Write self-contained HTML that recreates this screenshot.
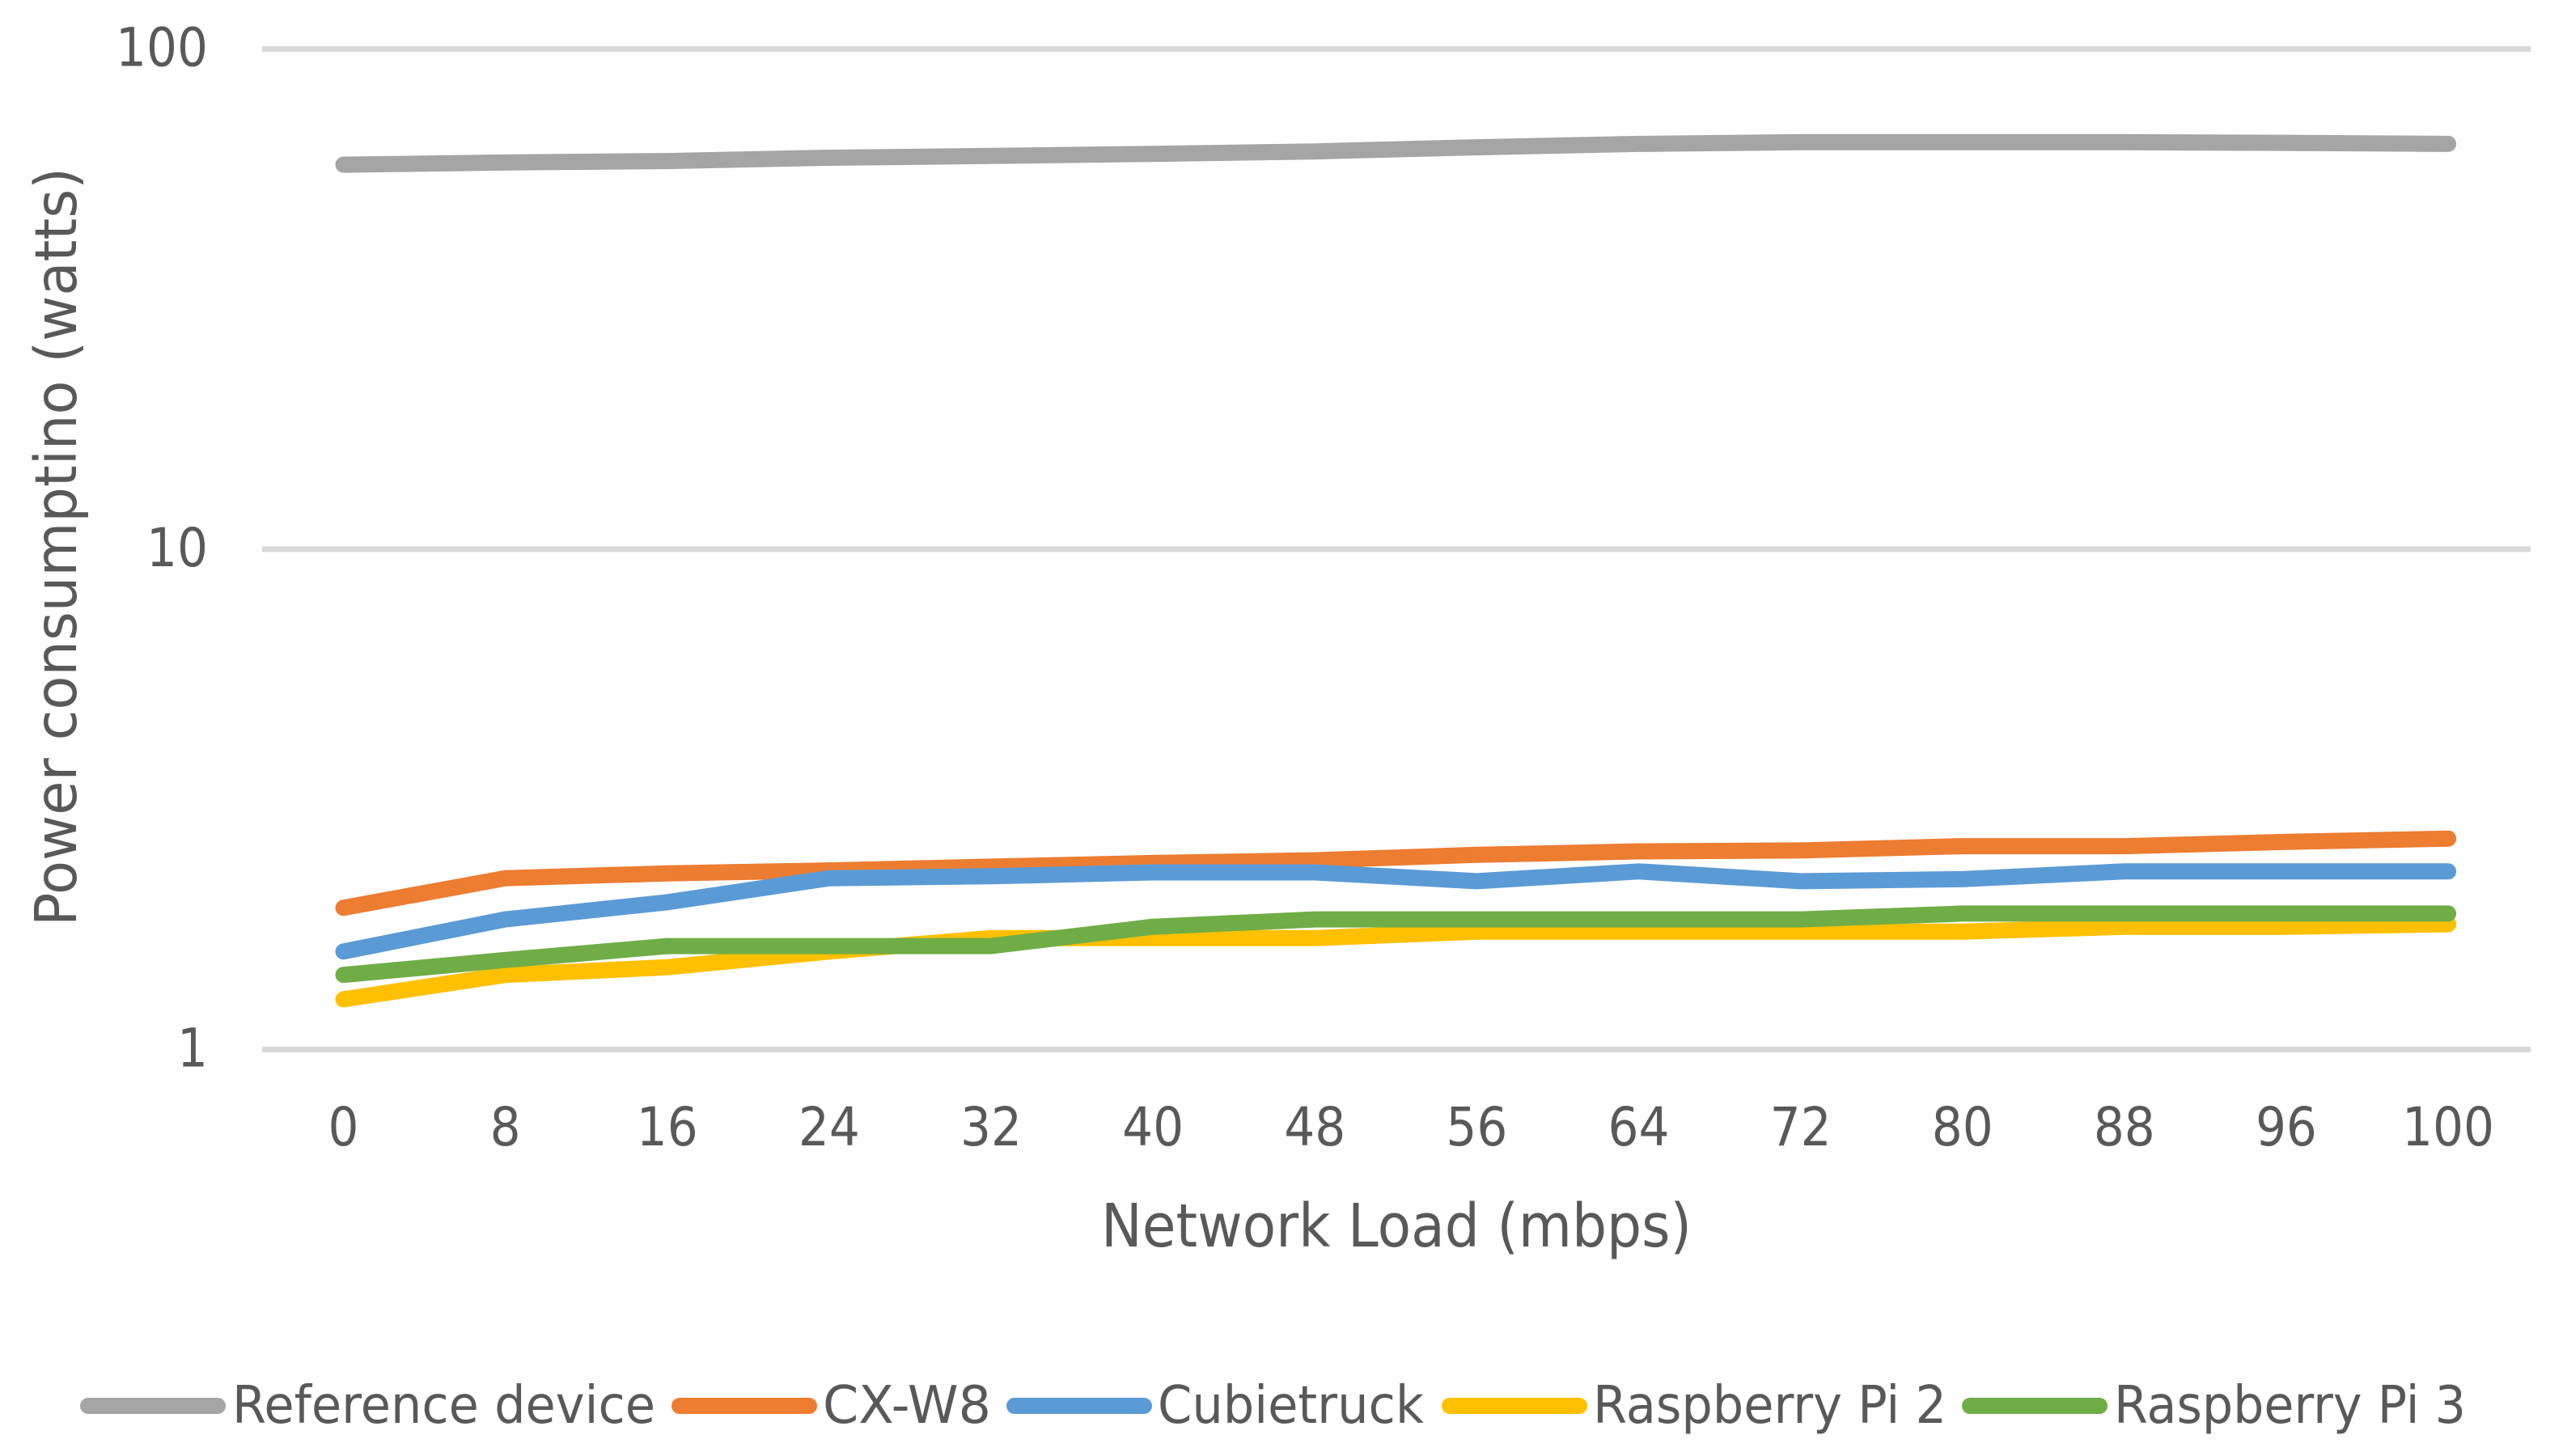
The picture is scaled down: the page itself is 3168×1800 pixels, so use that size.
<!DOCTYPE html>
<html lang="en">
<head>
<meta charset="utf-8">
<title>Power consumption vs network load</title>
<style>
  html, body { margin: 0; padding: 0; background: #fff; }
  svg { display: block; }
  text { font-family: "DejaVu Sans", "Liberation Sans", sans-serif; fill: #595959; }
</style>
</head>
<body>
<svg id="chart" xmlns="http://www.w3.org/2000/svg" width="3168" height="1800" viewBox="0 0 3168 1800">
  <rect x="0" y="0" width="3168" height="1800" fill="#ffffff"/>
  <g id="gridlines"></g>
  <g id="y-ticks"></g>
  <g id="x-ticks"></g>
  <g id="series"></g>

  <text transform="translate(94,1145) rotate(-90)" x="0" y="0" font-size="71" textLength="938" lengthAdjust="spacingAndGlyphs">Power consumptino (watts)</text>
  <text x="1361" y="1541" font-size="74" textLength="730" lengthAdjust="spacingAndGlyphs">Network Load (mbps)</text>

  <g>
    <g>
      <line x1="109" y1="1738" x2="269" y2="1738" stroke="#A5A5A5" stroke-width="20" stroke-linecap="round"/>
      <text x="287" y="1759" font-size="64.5" textLength="523" lengthAdjust="spacingAndGlyphs">Reference device</text>
    </g>
    <g>
      <line x1="840" y1="1738" x2="1000" y2="1738" stroke="#ED7D31" stroke-width="20" stroke-linecap="round"/>
      <text x="1017" y="1759" font-size="64.5" textLength="208" lengthAdjust="spacingAndGlyphs">CX-W8</text>
    </g>
    <g>
      <line x1="1254" y1="1738" x2="1414" y2="1738" stroke="#5B9BD5" stroke-width="20" stroke-linecap="round"/>
      <text x="1431" y="1759" font-size="64.5" textLength="329" lengthAdjust="spacingAndGlyphs">Cubietruck</text>
    </g>
    <g>
      <line x1="1792" y1="1738" x2="1952" y2="1738" stroke="#FFC000" stroke-width="20" stroke-linecap="round"/>
      <text x="1969" y="1759" font-size="64.5" textLength="437" lengthAdjust="spacingAndGlyphs">Raspberry Pi 2</text>
    </g>
    <g>
      <line x1="2435" y1="1738" x2="2595" y2="1738" stroke="#70AD47" stroke-width="20" stroke-linecap="round"/>
      <text x="2613" y="1759" font-size="64.5" textLength="435" lengthAdjust="spacingAndGlyphs">Raspberry Pi 3</text>
    </g>
  </g>
</svg>

<script>
const categories = ['0', '8', '16', '24', '32', '40', '48', '56', '64', '72', '80', '88', '96', '100'];
const yTickValues = [1, 10, 100];
const yTickLabels = ['1', '10', '100'];

const referenceDevice = [58.7, 59.3, 59.7, 60.6, 61.1, 61.7, 62.4, 63.6, 64.6, 65.1, 65.1, 65.1, 64.9, 64.6];
const cxW8 = [1.92, 2.2, 2.25, 2.28, 2.32, 2.36, 2.39, 2.45, 2.49, 2.5, 2.55, 2.55, 2.6, 2.64];
const cubietruck = [1.57, 1.82, 1.97, 2.2, 2.22, 2.26, 2.26, 2.17, 2.27, 2.17, 2.19, 2.27, 2.27, 2.27];
const raspberryPi2 = [1.26, 1.41, 1.46, 1.57, 1.67, 1.67, 1.67, 1.72, 1.72, 1.72, 1.72, 1.76, 1.76, 1.78];
const raspberryPi3 = [1.41, 1.51, 1.61, 1.61, 1.61, 1.76, 1.82, 1.82, 1.82, 1.82, 1.87, 1.87, 1.87, 1.87];

const SVG_NS = 'http://www.w3.org/2000/svg';
const plotLeft = 324, plotRight = 3128;
const firstX = 424.5, stepX = 200.12;
const yForMax = 60.5, decadeHeight = 618.5, yMaxLog = 2;
const digitWidth = 38;

function xScale(index) { return firstX + index * stepX; }
function yScale(value) { return yForMax + (yMaxLog - Math.log10(value)) * decadeHeight; }

const gridGroup = document.getElementById('gridlines');
const yTickGroup = document.getElementById('y-ticks');
const xTickGroup = document.getElementById('x-ticks');
const seriesGroup = document.getElementById('series');

yTickValues.forEach(function (tick, i) {
  const gridline = document.createElementNS(SVG_NS, 'line');
  
  
  gridline.setAttribute('x1', plotLeft);
  gridline.setAttribute('x2', plotRight);
  gridline.setAttribute('y1', yScale(tick));
  gridline.setAttribute('y2', yScale(tick));
  gridline.setAttribute('stroke', '#D9D9D9');
  gridline.setAttribute('stroke-width', 7);
  gridGroup.appendChild(gridline);

  const label = document.createElementNS(SVG_NS, 'text');
  
  
  label.setAttribute('x', 257);
  label.setAttribute('y', yScale(tick) + 21);
  label.setAttribute('font-size', 66);
  label.setAttribute('text-anchor', 'end');
  label.setAttribute('textLength', yTickLabels[i].length * digitWidth);
  label.setAttribute('lengthAdjust', 'spacingAndGlyphs');
  label.textContent = yTickLabels[i];
  yTickGroup.appendChild(label);
});

categories.forEach(function (category, i) {
  const label = document.createElementNS(SVG_NS, 'text');
  
  
  label.setAttribute('x', xScale(i));
  label.setAttribute('y', 1416);
  label.setAttribute('font-size', 66);
  label.setAttribute('text-anchor', 'middle');
  label.setAttribute('textLength', category.length * digitWidth);
  label.setAttribute('lengthAdjust', 'spacingAndGlyphs');
  label.textContent = category;
  xTickGroup.appendChild(label);
});

function drawSeries(values, name, color) {
  const points = values.map(function (value, i) {
    return xScale(i).toFixed(1) + ',' + yScale(value).toFixed(1);
  }).join(' ');
  const line = document.createElementNS(SVG_NS, 'polyline');
  
  
  line.setAttribute('points', points);
  line.setAttribute('fill', 'none');
  line.setAttribute('stroke', color);
  line.setAttribute('stroke-width', 20);
  line.setAttribute('stroke-linecap', 'round');
  line.setAttribute('stroke-linejoin', 'round');
  seriesGroup.appendChild(line);
}

drawSeries(referenceDevice, 'reference-device', '#A5A5A5');
drawSeries(cxW8, 'cx-w8', '#ED7D31');
drawSeries(cubietruck, 'cubietruck', '#5B9BD5');
drawSeries(raspberryPi2, 'raspberry-pi-2', '#FFC000');
drawSeries(raspberryPi3, 'raspberry-pi-3', '#70AD47');
</script>
</body>
</html>
